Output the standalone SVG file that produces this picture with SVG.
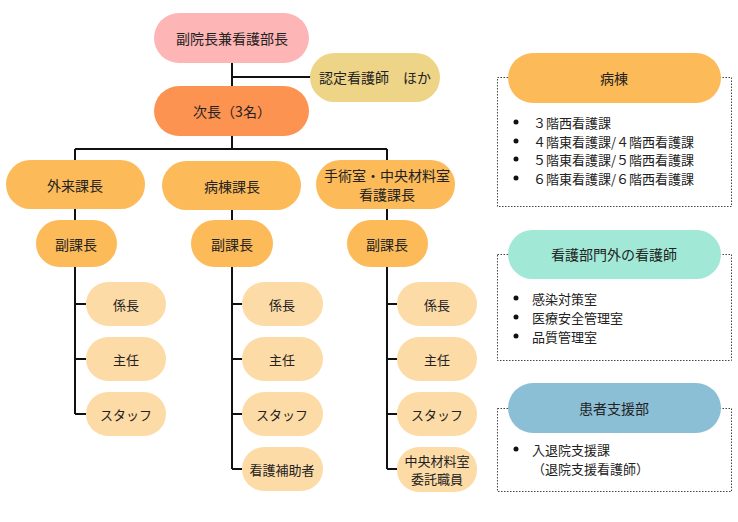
<svg xmlns="http://www.w3.org/2000/svg" width="738" height="522" viewBox="0 0 738 522">
<style>
text{font-family:"Noto Sans CJK JP","Noto Sans",sans-serif;font-size:14px;fill:#222;text-anchor:middle;dominant-baseline:central}
.l{text-anchor:start;font-size:13px}
.s{font-size:13px}
.c{stroke:#111;stroke-width:2;fill:none}
.box{fill:none;stroke:#444;stroke-width:1;stroke-dasharray:1.5 1.5}
.h{fill:#FCBA59}.sub{fill:#FDDBA6}
.b{fill:#111}
</style>
<rect width="738" height="522" fill="#fff"/>
<g id="connectors" class="c">
<path d="M232 63V149M232 77H312M75 149H387M75 149V160M387 149V160M75 209V220M232 210V220M387 209V220"/>
<path d="M75 267V414M75 304H86M75 359H86M75 414H86"/>
<path d="M232 267V469M232 304H242M232 359H242M232 414H242M232 469H242"/>
<path d="M387 267V469M387 304H397M387 359H397M387 414H397M387 469H397"/>
</g>
<g id="n-top"><rect x="154" y="13" width="155" height="50" rx="25" fill="#FDB5B5"/><text x="232" y="38">副院長兼看護部長</text></g>
<g id="n-cert"><rect x="310" y="53" width="130" height="49" rx="24.5" fill="#EED487"/><text x="375" y="77">認定看護師　ほか</text></g>
<g id="n-deputy"><rect x="154" y="86" width="155" height="50" rx="25" fill="#FD9350"/><text x="232" y="111">次長（3名）</text></g>
<g id="n-gairai"><rect x="6" y="160" width="139" height="49" rx="24.5" class="h"/><text x="75" y="185">外来課長</text></g>
<g id="n-byoto"><rect x="162" y="161" width="139" height="49" rx="24.5" class="h"/><text x="232" y="186">病棟課長</text></g>
<g id="n-shujutsu"><rect x="316" y="160" width="139" height="49" rx="24.5" class="h"/><text x="387" y="175">手術室・中央材料室</text><text x="387" y="194">看護課長</text></g>
<g id="n-fuku1"><rect x="36" y="220" width="81" height="47" rx="23.5" class="h"/><text x="76" y="244">副課長</text></g>
<g id="n-fuku2"><rect x="191" y="220" width="82" height="47" rx="23.5" class="h"/><text x="232" y="244">副課長</text></g>
<g id="n-fuku3"><rect x="347" y="220" width="81" height="47" rx="23.5" class="h"/><text x="387" y="244">副課長</text></g>
<g id="n-a1"><rect x="86" y="282" width="80" height="44" rx="22" class="sub"/><text class="s" x="126" y="304">係長</text></g>
<g id="n-a2"><rect x="86" y="337" width="80" height="44" rx="22" class="sub"/><text class="s" x="126" y="359">主任</text></g>
<g id="n-a3"><rect x="86" y="392" width="80" height="44" rx="22" class="sub"/><text class="s" x="126" y="414">スタッフ</text></g>
<g id="n-b1"><rect x="242" y="282" width="81" height="44" rx="22" class="sub"/><text class="s" x="282" y="304">係長</text></g>
<g id="n-b2"><rect x="242" y="337" width="81" height="44" rx="22" class="sub"/><text class="s" x="282" y="359">主任</text></g>
<g id="n-b3"><rect x="242" y="392" width="81" height="44" rx="22" class="sub"/><text class="s" x="282" y="414">スタッフ</text></g>
<g id="n-b4"><rect x="242" y="447" width="81" height="44" rx="22" class="sub"/><text class="s" x="282" y="469">看護補助者</text></g>
<g id="n-c1"><rect x="397" y="282" width="80" height="44" rx="22" class="sub"/><text class="s" x="437" y="304">係長</text></g>
<g id="n-c2"><rect x="397" y="337" width="80" height="44" rx="22" class="sub"/><text class="s" x="437" y="359">主任</text></g>
<g id="n-c3"><rect x="397" y="392" width="80" height="44" rx="22" class="sub"/><text class="s" x="437" y="414">スタッフ</text></g>
<g id="n-c4"><rect x="397" y="447" width="80" height="45" rx="22" class="sub"/><text class="s" x="437" y="460">中央材料室</text><text class="s" x="437" y="478">委託職員</text></g>
<g id="p-byoto"><rect class="box" x="497.5" y="77.5" width="234" height="129"/><rect x="508" y="53" width="213" height="50" rx="25" class="h"/><text x="614" y="78">病棟</text>
<circle class="b" cx="516" cy="122" r="2.5"/><text class="l" x="533" y="122">３階西看護課</text>
<circle class="b" cx="516" cy="141" r="2.5"/><text class="l" x="533" y="141">４階東看護課/４階西看護課</text>
<circle class="b" cx="516" cy="159" r="2.5"/><text class="l" x="533" y="159">５階東看護課/５階西看護課</text>
<circle class="b" cx="516" cy="178" r="2.5"/><text class="l" x="533" y="178">６階東看護課/６階西看護課</text></g>
<g id="p-other"><rect class="box" x="497.5" y="254.5" width="234" height="106"/><rect x="508" y="230" width="213" height="49" rx="24.5" fill="#A2E8D7"/><text x="614" y="254">看護部門外の看護師</text>
<circle class="b" cx="516" cy="298" r="2.5"/><text class="l" x="532" y="298">感染対策室</text>
<circle class="b" cx="516" cy="317" r="2.5"/><text class="l" x="532" y="317">医療安全管理室</text>
<circle class="b" cx="516" cy="336" r="2.5"/><text class="l" x="532" y="336">品質管理室</text></g>
<g id="p-patient"><rect class="box" x="497.5" y="408.5" width="234" height="83"/><rect x="508" y="383" width="213" height="50" rx="25" fill="#8BBFD6"/><text x="614" y="408">患者支援部</text>
<circle class="b" cx="516" cy="449" r="2.5"/><text class="l" x="532" y="449">入退院支援課</text><text class="l" x="532" y="468">（退院支援看護師）</text></g>
</svg>
